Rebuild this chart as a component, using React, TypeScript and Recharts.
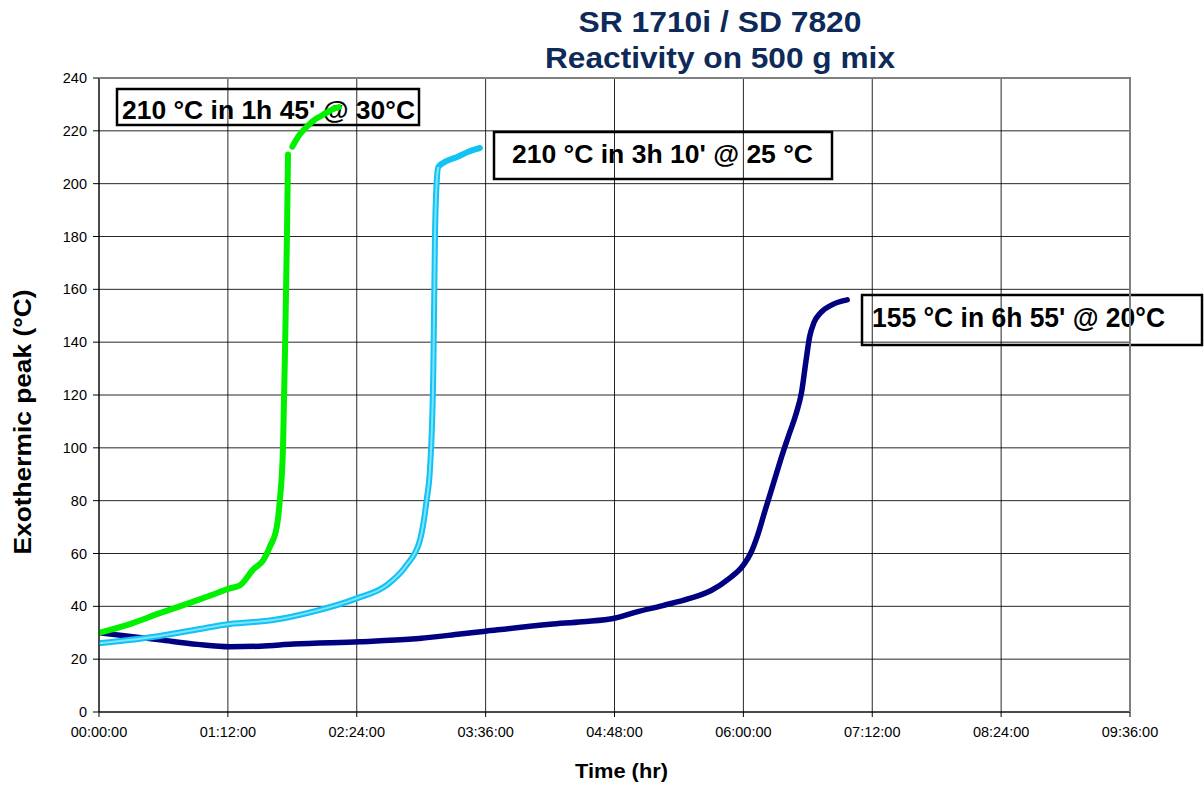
import React from 'react';
import { LineChart, Line, XAxis, YAxis, CartesianGrid } from 'recharts';

// Time axis (minutes) and temperature axis ticks
const timeTicks = [0, 72, 144, 216, 288, 360, 432, 504, 576];
const tempTicks = [0, 20, 40, 60, 80, 100, 120, 140, 160, 180, 200, 220, 240];

// Mix @ 30°C (green)
const time30 = [0, 15.5, 34, 52.7, 63, 73, 78.8, 86.2, 91.8, 95.5, 99.3, 101, 102.8, 104, 105, 105.6, 106.6, 108, 112, 116, 120, 125, 130, 134];
const temp30 = [30, 32.9, 37.4, 41.8, 44.3, 46.8, 48, 54, 57.5, 62.6, 70, 80, 100, 140, 180, 211, null, 214, 218.5, 221.5, 224, 226, 228, 229];

// Mix @ 25°C (cyan)
const time25 = [0, 34, 60.2, 73, 97.3, 119.7, 144, 160.7, 171.8, 179.3, 183, 185, 186.8, 187.7, 188.6, 189.6, 194, 199.8, 206, 212.8];
const temp25 = [26, 28.8, 31.9, 33.3, 34.8, 38, 43, 48, 55.6, 65, 80, 93, 130, 180, 200, 206.4, 208.5, 210, 212, 213.5];

// Mix @ 20°C (navy)
const time20 = [0, 34, 55, 73, 90, 108.5, 145.8, 175, 201.7, 216, 252, 270, 288, 300, 315, 330, 342, 352, 360, 364, 368, 372, 377, 382, 386, 389.5, 392.5, 395, 397, 399.5, 403, 410, 418];
const temp20 = [30, 27.3, 25.6, 24.7, 24.9, 25.7, 26.6, 27.6, 29.5, 30.6, 33.2, 34.2, 35.5, 37.8, 40.3, 43, 46, 50.5, 55.6, 60, 67, 76, 87, 98, 106, 113, 121, 133, 142, 147.5, 151, 154.3, 156];

const titleLines = ['SR 1710i / SD 7820', 'Reactivity on 500 g mix'];
const annotations = [
  '210 °C in 1h 45\' @ 30°C',
  '210 °C in 3h 10\' @ 25 °C',
  '155 °C in 6h 55\' @ 20°C',
];
const xTitle = 'Time (hr)';
const yTitle = 'Exothermic peak (°C)';

const rows = (ts: number[], vs: (number | null)[]) => ts.map((t, i) => ({ t, v: vs[i] }));
const data30 = rows(time30, temp30);
const data25 = rows(time25, temp25);
const data25core = data25.filter((d) => d.t <= 189.6);
const data20 = rows(time20, temp20);

const pad = (n: number) => String(n).padStart(2, '0');
const fmtTime = (m: number) => {
  const h = Math.floor(m / 60);
  const mm = Math.round(m % 60);
  return `${pad(h)}:${pad(mm)}:00`;
};

const FONT = 'Liberation Sans, Arial, sans-serif';

export default function App() {
  const W = 1204;
  const H = 787;
  return (
    <div style={{ position: 'absolute', left: 0, top: 0, width: W, height: H, background: '#fff' }}>
      <svg width={W} height={H} style={{ position: 'absolute', left: 0, top: 0 }} fontFamily={FONT}>
        <text x={720} y={32} textAnchor="middle" fontSize={29} fontWeight="bold" fill="#0E2A58" textLength={283} lengthAdjust="spacingAndGlyphs">{titleLines[0]}</text>
        <text x={720} y={68} textAnchor="middle" fontSize={29} fontWeight="bold" fill="#0E2A58" textLength={350} lengthAdjust="spacingAndGlyphs">{titleLines[1]}</text>

        <rect x={117} y={89} width={302} height={36} fill="none" stroke="#000" strokeWidth={2.5} />
        <text x={122} y={119} fontSize={26} fontWeight="bold" fill="#000" textLength={293} lengthAdjust="spacingAndGlyphs">{annotations[0]}</text>

        <rect x={494} y={132} width={338} height={47} fill="none" stroke="#000" strokeWidth={2.5} />
        <text x={512} y={162.5} fontSize={26.5} fontWeight="bold" fill="#000" textLength={301} lengthAdjust="spacingAndGlyphs">{annotations[1]}</text>

        <rect x={862} y={295} width={340} height={50} fill="none" stroke="#000" strokeWidth={2.5} />
        <text x={872} y={327} fontSize={27} fontWeight="bold" fill="#000" textLength={293} lengthAdjust="spacingAndGlyphs">{annotations[2]}</text>

        <text x={621.5} y={778} textAnchor="middle" fontSize={21} fontWeight="bold" fill="#000" textLength={93} lengthAdjust="spacingAndGlyphs">{xTitle}</text>
        <text x={0} y={0} transform="translate(31,422) rotate(-90)" textAnchor="middle" fontSize={23} fontWeight="bold" fill="#000" textLength={265} lengthAdjust="spacingAndGlyphs">{yTitle}</text>
      </svg>

      <div style={{ position: 'absolute', left: 0, top: 0 }}>
        <LineChart width={W} height={H} margin={{ top: 78, right: 74, bottom: 0, left: 0 }}>
          <CartesianGrid stroke="#000" strokeWidth={1} strokeOpacity={0.85} />
          <XAxis
            dataKey="t"
            type="number"
            domain={[0, 576]}
            ticks={timeTicks}
            tickFormatter={fmtTime}
            allowDataOverflow
            height={75}
            tickSize={5}
            tickMargin={10}
            stroke="#000"
            tick={{ fill: '#000', fontSize: 14.5, fontFamily: FONT }}
            interval={0}
          />
          <YAxis
            type="number"
            domain={[0, 240]}
            ticks={tempTicks}
            width={99}
            tickSize={6}
            tickMargin={6}
            stroke="#000"
            tick={{ fill: '#000', fontSize: 14.5, fontFamily: FONT }}
            interval={0}
          />
          <Line data={data20} dataKey="v" type="monotone" stroke="#000080" strokeWidth={5.5} dot={false} isAnimationActive={false} strokeLinecap="round" />
          <Line data={data25} dataKey="v" type="monotone" stroke="#12C2F2" strokeWidth={6} dot={false} isAnimationActive={false} strokeLinecap="round" />
          <Line data={data25core} dataKey="v" type="monotone" stroke="#7FE3FF" strokeWidth={2} dot={false} isAnimationActive={false} />
          <Line data={data30} dataKey="v" type="monotone" stroke="#00F000" strokeWidth={6} dot={false} isAnimationActive={false} connectNulls={false} strokeLinecap="round" />
        </LineChart>
      </div>

      <svg width={W} height={H} style={{ position: 'absolute', left: 0, top: 0, pointerEvents: 'none' }}>
        <polyline points="99,78 1130,78 1130,712" fill="none" stroke="#808080" strokeWidth={2} />
      </svg>
    </div>
  );
}
